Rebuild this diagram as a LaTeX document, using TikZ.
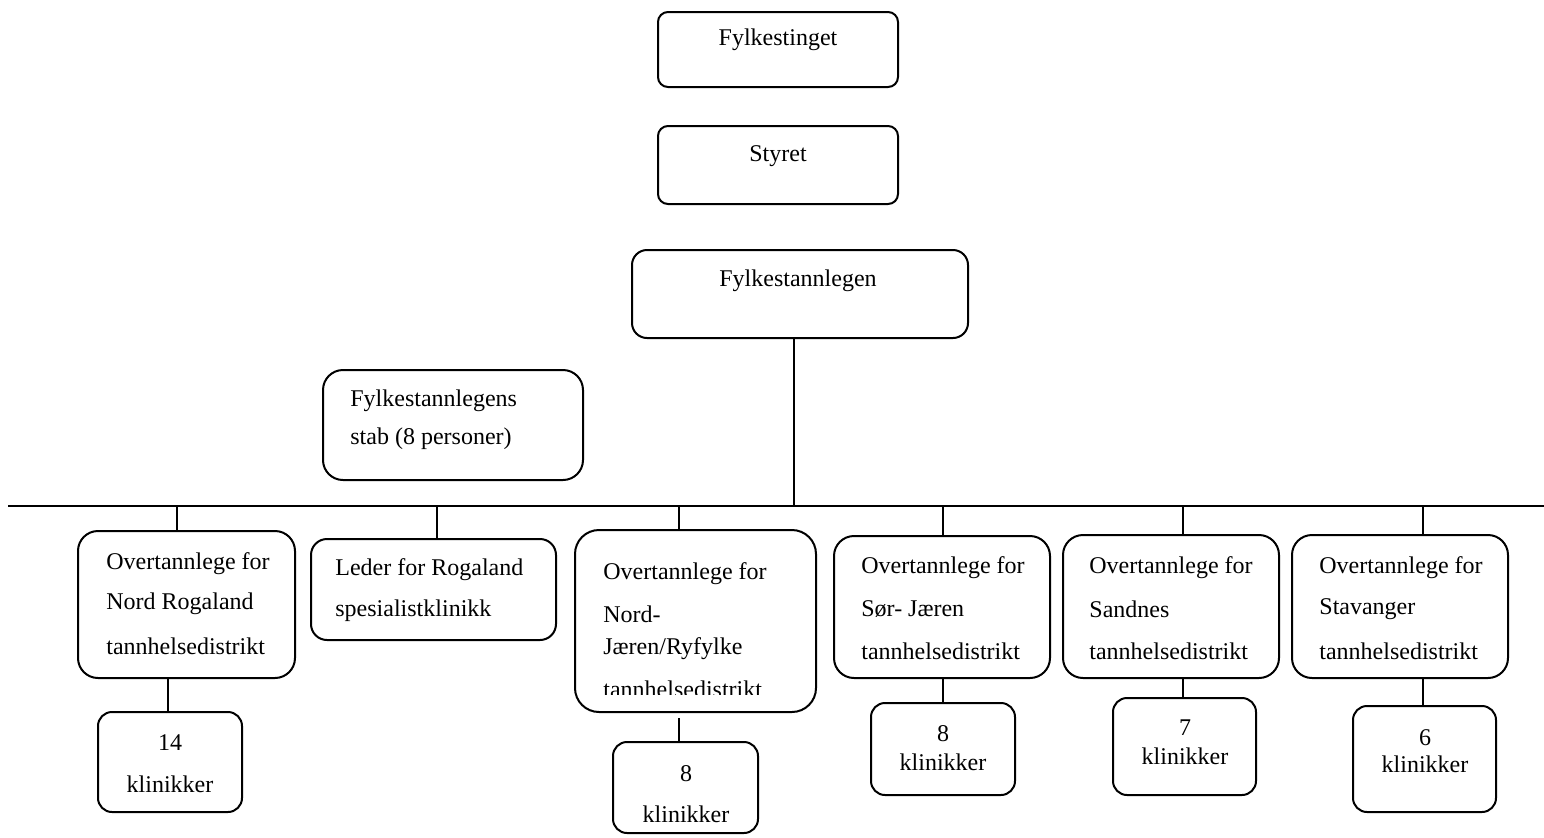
\documentclass[tikz,border=0pt]{standalone}
\usepackage{fontspec}
\setmainfont{Liberation Serif}
\begin{document}
\begin{tikzpicture}[x=0.5pt,y=-0.5pt,
  box/.style={draw, line width=1pt, rounded corners=#1, inner sep=0pt, outer sep=0pt},
  box/.default=10pt,
  txt/.style={inner sep=0pt, font=\fontsize{12}{14}\selectfont, anchor=west},
  ctxt/.style={inner sep=0pt, font=\fontsize{12}{14}\selectfont, anchor=center},
  conn/.style={line width=1pt}]
\useasboundingbox (0,0) rectangle (1544,837);
% top chain
\node[box=5pt, minimum width=120pt, minimum height=37.5pt] (fyt) at (778,49.5) {};
\node[ctxt] (fytT) at (778,40) {Fylkestinget};
\node[box=5pt, minimum width=120pt, minimum height=39pt] (sty) at (778,165) {};
\node[ctxt] (styT) at (778,156) {Styret};
\node[box=7.5pt, minimum width=168pt, minimum height=44pt] (fyl) at (800,294) {};
\node[ctxt] (fylT) at (798,281) {Fylkestannlegen};
% staff
\node[box=10pt, minimum width=130pt, minimum height=55pt] (stab) at (453,425) {};
\node[txt] (stab1) at (350,401) {Fylkestannlegens};
\node[txt] (stab2) at (350,439) {stab (8 personer)};
% bar
\coordinate (barL) at (8,506);
\coordinate (barR) at (1544,506);
\draw[conn] (barL) -- (barR);
\draw[conn] ([xshift=-3pt]fyl.south) -- ([xshift=-3pt]fyl.south |- barL);
% districts
\node[box=10pt, minimum width=108.5pt, minimum height=73.5pt] (nr) at (186.5,604.5) {};
\node[txt] (nr1) at (106,564) {Overtannlege for};
\node[txt] (nr2) at (106,604) {Nord Rogaland};
\node[txt] (nr3) at (106,646) {tannhelsedistrikt};
\node[box=8pt, minimum width=122.5pt, minimum height=50.5pt] (led) at (433.5,589.5) {};
\node[txt] (led1) at (335,570) {Leder for Rogaland};
\node[txt] (led2) at (335,611) {spesialistklinikk};
\node[box=12pt, minimum width=120.5pt, minimum height=91pt] (nj) at (695.5,621) {};
\node[txt] (nj1) at (603,574) {Overtannlege for};
\node[txt] (nj2) at (603,614) {Nord-};
\node[txt] (nj3) at (603,649) {Jæren/Ryfylke};
\begin{scope}
\clip (575,530) rectangle (816,694);
\node[txt] (nj4) at (603,689) {tannhelsedistrikt};
\end{scope}
\node[box=10pt, minimum width=108pt, minimum height=71pt] (sj) at (942,607) {};
\node[txt] (sj1) at (861,568) {Overtannlege for};
\node[txt] (sj2) at (861,609) {Sør- Jæren};
\node[txt] (sj3) at (861,651) {tannhelsedistrikt};
\node[box=10pt, minimum width=108pt, minimum height=71.5pt] (sa) at (1171,606.5) {};
\node[txt] (sa1) at (1089,568) {Overtannlege for};
\node[txt] (sa2) at (1089,609) {Sandnes};
\node[txt] (sa3) at (1089,651) {tannhelsedistrikt};
\node[box=10pt, minimum width=108pt, minimum height=71.5pt] (st) at (1400,606.5) {};
\node[txt] (st1) at (1319,568) {Overtannlege for};
\node[txt] (st2) at (1319,609) {Stavanger};
\node[txt] (st3) at (1319,651) {tannhelsedistrikt};
% clinics
\node[box=7pt, minimum width=72pt, minimum height=50pt] (k1) at (170,762) {};
\node[ctxt] (k1a) at (170,743) {14};
\node[ctxt] (k1b) at (170,784) {klinikker};
\node[box=7pt, minimum width=72.5pt, minimum height=45.5pt] (k2) at (685.5,787.5) {};
\node[ctxt] (k2a) at (686,774) {8};
\node[ctxt] (k2b) at (686,814) {klinikker};
\node[box=7pt, minimum width=72pt, minimum height=46pt] (k3) at (943,749) {};
\node[ctxt] (k3a) at (943,734) {8};
\node[ctxt] (k3b) at (943,762) {klinikker};
\node[box=7pt, minimum width=71.5pt, minimum height=48.5pt] (k4) at (1184.5,746.5) {};
\node[ctxt] (k4a) at (1185,728) {7};
\node[ctxt] (k4b) at (1185,756) {klinikker};
\node[box=7pt, minimum width=71.5pt, minimum height=53pt] (k5) at (1424.5,759) {};
\node[ctxt] (k5a) at (1425,738) {6};
\node[ctxt] (k5b) at (1425,764) {klinikker};
% ticks from bar
\draw[conn] ([xshift=-4.75pt]nr.north) -- ([xshift=-4.75pt]nr.north |- barL);
\draw[conn] ([xshift=1.75pt]led.north) -- ([xshift=1.75pt]led.north |- barL);
\draw[conn] ([xshift=-8.25pt]nj.north) -- ([xshift=-8.25pt]nj.north |- barL);
\draw[conn] ([xshift=0.5pt]sj.north) -- ([xshift=0.5pt]sj.north |- barL);
\draw[conn] ([xshift=6pt]sa.north) -- ([xshift=6pt]sa.north |- barL);
\draw[conn] ([xshift=11.5pt]st.north) -- ([xshift=11.5pt]st.north |- barL);
% district to clinics
\draw[conn] ([xshift=-1pt]k1.north) -- ([xshift=-1pt]k1.north |- nr.south);
\draw[conn] ([xshift=-3.25pt,yshift=12pt]k2.north) -- ([xshift=-3.25pt]k2.north);
\draw[conn] (k3.north) -- (k3.north |- sj.south);
\draw[conn] ([xshift=-0.75pt]k4.north) -- ([xshift=-0.75pt]k4.north |- sa.south);
\draw[conn] ([xshift=-0.75pt]k5.north) -- ([xshift=-0.75pt]k5.north |- st.south);
\end{tikzpicture}
\end{document}
